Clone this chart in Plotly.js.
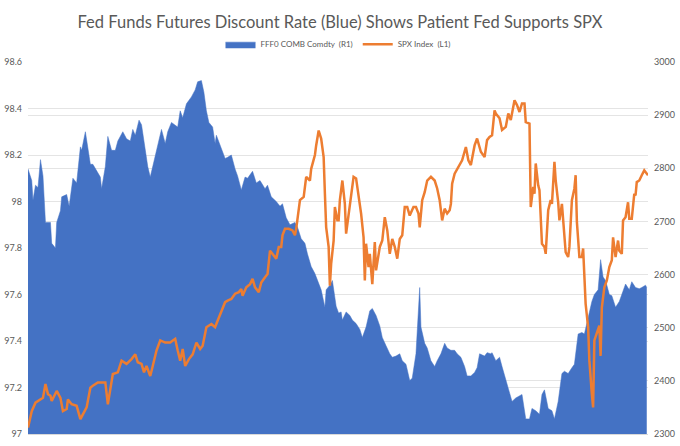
<!DOCTYPE html>
<html>
<head>
<meta charset="utf-8">
<script src="https://cdn.plot.ly/plotly-3.0.1.min.js"></script>
<style>
  html, body { margin: 0; padding: 0; background: #fff; }
  #chart { width: 680px; height: 446px; }
</style>
</head>
<body>
<div id="chart"></div>
<script>
// trading-day index (unlabelled x axis) and FFF0 discount rate
let fffDays = [0, 3, 4, 6, 8, 10, 12, 14, 18, 19, 22, 23, 26, 27, 31, 33, 36, 39, 42, 43, 46, 48, 50, 52, 55, 58, 59, 62, 64, 67, 70, 72, 76, 79, 82, 84, 86, 89, 91, 94, 96, 98, 100, 103, 106, 107, 110, 112, 115, 118, 120, 122, 124, 127, 131, 134, 136, 139, 141, 143, 145, 148, 150, 151, 155, 158, 160, 163, 166, 168, 171, 174, 176, 180, 183, 186, 190, 192, 195, 199, 202, 204, 207, 210, 214, 216, 219, 222, 224, 227, 230, 232, 235, 238, 239, 242, 244, 247, 249, 251, 252, 255, 258, 260, 263, 266, 268, 271, 274, 276, 279, 282, 284, 287, 290, 292, 295, 298, 300, 303, 306, 308, 311, 314, 315, 318, 320, 323, 326, 328, 331, 334, 336, 339, 342, 344, 347, 350, 352, 355, 358, 360, 362, 366, 368, 371, 372, 375, 378, 380, 383, 386, 388, 391, 394, 396, 399, 402, 404, 407, 410, 412, 414, 417, 420, 422, 425, 428, 430, 433, 436, 438, 441, 444, 446, 449, 452, 454, 457, 459, 461, 463, 466, 468, 471, 474, 476, 479, 482, 484, 487, 490, 492, 495, 496];
let fffRate = [98.14, 98.09, 98.005, 98.07, 98.06, 98.18, 98.11, 97.91, 97.91, 97.82, 97.80, 97.91, 97.96, 98.02, 98.03, 97.98, 98.10, 98.08, 98.235, 98.22, 98.30, 98.22, 98.16, 98.16, 98.13, 98.105, 98.055, 98.15, 98.28, 98.22, 98.22, 98.26, 98.30, 98.27, 98.26, 98.31, 98.285, 98.35, 98.33, 98.22, 98.15, 98.105, 98.15, 98.23, 98.285, 98.31, 98.25, 98.30, 98.34, 98.33, 98.32, 98.39, 98.36, 98.42, 98.45, 98.48, 98.515, 98.52, 98.47, 98.39, 98.34, 98.32, 98.25, 98.285, 98.23, 98.185, 98.19, 98.20, 98.14, 98.11, 98.05, 98.105, 98.10, 98.13, 98.08, 98.09, 98.055, 98.07, 98.02, 98.00, 97.98, 97.99, 97.93, 97.90, 97.91, 97.89, 97.84, 97.82, 97.775, 97.72, 97.69, 97.66, 97.62, 97.545, 97.62, 97.64, 97.66, 97.55, 97.52, 97.525, 97.49, 97.525, 97.51, 97.49, 97.475, 97.45, 97.415, 97.46, 97.53, 97.54, 97.51, 97.465, 97.415, 97.38, 97.345, 97.33, 97.335, 97.345, 97.315, 97.30, 97.23, 97.24, 97.345, 97.63, 97.46, 97.39, 97.37, 97.315, 97.29, 97.315, 97.345, 97.39, 97.37, 97.36, 97.36, 97.345, 97.33, 97.29, 97.25, 97.25, 97.265, 97.285, 97.345, 97.335, 97.35, 97.345, 97.35, 97.315, 97.33, 97.29, 97.23, 97.17, 97.14, 97.155, 97.165, 97.17, 97.065, 97.065, 97.11, 97.10, 97.085, 97.17, 97.19, 97.11, 97.10, 97.065, 97.14, 97.26, 97.27, 97.26, 97.285, 97.30, 97.43, 97.437, 97.43, 97.50, 97.57, 97.60, 97.62, 97.75, 97.675, 97.66, 97.60, 97.595, 97.545, 97.57, 97.60, 97.645, 97.62, 97.655, 97.63, 97.625, 97.63, 97.64, 97.63];

// SPX index level
let spxDays = [0, 3, 6, 10, 12, 14, 16, 18, 19, 23, 26, 28, 31, 32, 35, 39, 42, 44, 47, 50, 52, 56, 59, 62, 64, 66, 68, 72, 75, 79, 83, 86, 88, 91, 93, 95, 98, 100, 103, 106, 110, 114, 118, 120, 122, 124, 126, 129, 132, 135, 138, 140, 143, 147, 150, 152, 155, 158, 160, 163, 166, 169, 171, 172, 175, 178, 180, 182, 185, 187, 190, 192, 194, 196, 199, 201, 203, 204, 206, 209, 212, 214, 215, 218, 221, 223, 226, 227, 230, 231, 233, 235, 237, 238, 239, 241, 242, 243, 245, 246, 248, 249, 250, 252, 254, 255, 258, 259, 261, 263, 265, 267, 269, 270, 271, 273, 274, 276, 278, 279, 282, 284, 286, 288, 290, 292, 294, 296, 298, 300, 302, 304, 306, 309, 311, 313, 314, 316, 318, 320, 323, 326, 328, 330, 332, 334, 336, 338, 339, 340, 342, 344, 346, 348, 351, 353, 355, 358, 360, 363, 366, 368, 370, 372, 374, 375, 378, 380, 383, 385, 387, 390, 392, 394, 396, 398, 399, 402, 403, 405, 406, 407, 409, 410, 412, 414, 415, 417, 419, 420, 422, 423, 425, 426, 428, 430, 431, 433, 434, 436, 438, 439, 440, 442, 444, 445, 447, 449, 450, 452, 453, 454, 456, 458, 459, 460, 462, 464, 466, 468, 469, 471, 473, 474, 476, 477, 479, 481, 482, 484, 486, 487, 488, 490, 492, 494, 495, 497];
let spxLevel = [2312, 2343, 2359, 2365, 2368, 2394, 2375, 2372, 2362, 2381, 2368, 2343, 2347, 2365, 2356, 2353, 2328, 2337, 2350, 2387, 2391, 2397, 2397, 2397, 2356, 2387, 2413, 2416, 2438, 2432, 2441, 2450, 2435, 2432, 2416, 2428, 2409, 2428, 2457, 2476, 2472, 2472, 2479, 2457, 2438, 2460, 2428, 2441, 2450, 2472, 2460, 2466, 2501, 2507, 2501, 2513, 2529, 2548, 2551, 2554, 2564, 2567, 2573, 2560, 2576, 2582, 2592, 2576, 2567, 2585, 2595, 2601, 2645, 2639, 2630, 2652, 2652, 2674, 2686, 2686, 2683, 2674, 2686, 2740, 2746, 2784, 2777, 2799, 2825, 2843, 2871, 2856, 2821, 2752, 2689, 2652, 2579, 2620, 2664, 2727, 2702, 2702, 2740, 2777, 2733, 2677, 2727, 2752, 2784, 2781, 2752, 2715, 2670, 2589, 2658, 2614, 2639, 2582, 2661, 2608, 2652, 2664, 2708, 2683, 2639, 2667, 2652, 2630, 2667, 2674, 2727, 2727, 2711, 2727, 2727, 2715, 2689, 2740, 2755, 2777, 2784, 2777, 2762, 2740, 2702, 2724, 2715, 2721, 2733, 2771, 2790, 2799, 2806, 2815, 2840, 2815, 2806, 2843, 2856, 2831, 2821, 2853, 2859, 2862, 2909, 2903, 2894, 2872, 2878, 2903, 2891, 2928, 2919, 2906, 2922, 2922, 2887, 2884, 2727, 2765, 2752, 2809, 2768, 2759, 2658, 2652, 2639, 2721, 2740, 2733, 2812, 2777, 2736, 2702, 2733, 2677, 2642, 2633, 2652, 2740, 2762, 2787, 2699, 2633, 2633, 2649, 2545, 2501, 2438, 2375, 2350, 2476, 2491, 2504, 2447, 2538, 2576, 2589, 2614, 2627, 2670, 2633, 2664, 2645, 2639, 2702, 2708, 2736, 2705, 2705, 2752, 2749, 2774, 2777, 2787, 2796, 2793, 2787];

let leftTicks = [97, 97.2, 97.4, 97.6, 97.8, 98, 98.2, 98.4, 98.6];
let leftTickText = ['97', '97.2', '97.4', '97.6', '97.8', '98', '98.2', '98.4', '98.6'];
let rightTicks = [2300, 2400, 2500, 2600, 2700, 2800, 2900, 3000];

let textGrey = '#595959';

let fff = {
    x: fffDays,
    y: fffRate,
    type: 'scatter',
    mode: 'lines',
    name: 'FFF0 COMB Comdty  (R1)',
    fill: 'tozeroy',
    fillcolor: '#4472C4',
    line: {color: '#4472C4', width: 0.5},
    hoverinfo: 'skip'
};

let spx = {
    x: spxDays,
    y: spxLevel,
    type: 'scatter',
    mode: 'lines',
    name: 'SPX Index  (L1)',
    yaxis: 'y2',
    line: {color: '#ED7D31', width: 2.5},
    hoverinfo: 'skip'
};

let layout = {
    width: 680,
    height: 446,
    margin: {l: 28, r: 32, t: 62, b: 12},
    paper_bgcolor: '#ffffff',
    plot_bgcolor: '#ffffff',
    font: {family: 'Lato, "Open Sans", sans-serif', color: textGrey},
    title: {
        text: 'Fed Funds Futures Discount Rate (Blue) Shows Patient Fed Supports SPX',
        font: {size: 16.5, color: textGrey},
        x: 0.5,
        xanchor: 'center',
        y: 0.95,
        yanchor: 'middle'
    },
    showlegend: true,
    legend: {
        orientation: 'h',
        x: 0.5,
        xanchor: 'center',
        y: 1.048,
        yanchor: 'middle',
        font: {size: 8, color: textGrey},
        itemwidth: 30
    },
    xaxis: {
        range: [0, 497],
        showticklabels: false,
        showgrid: false,
        zeroline: false,
        showline: true,
        linecolor: '#d9d9d9',
        linewidth: 1,
        ticks: ''
    },
    yaxis: {
        range: [97, 98.6],
        tickvals: leftTicks,
        ticktext: leftTickText,
        tickfont: {size: 9, color: textGrey},
        ticklabelstandoff: 5,
        gridcolor: '#e4e4e4',
        zeroline: false,
        ticks: ''
    },
    yaxis2: {
        range: [2300, 3000],
        overlaying: 'y',
        side: 'right',
        tickvals: rightTicks,
        tickfont: {size: 9, color: textGrey},
        ticklabelstandoff: 5,
        gridcolor: '#e4e4e4',
        zeroline: false,
        ticks: ''
    }
};

Plotly.newPlot('chart', [fff, spx], layout, {staticPlot: true, displayModeBar: false});
</script>
</body>
</html>
